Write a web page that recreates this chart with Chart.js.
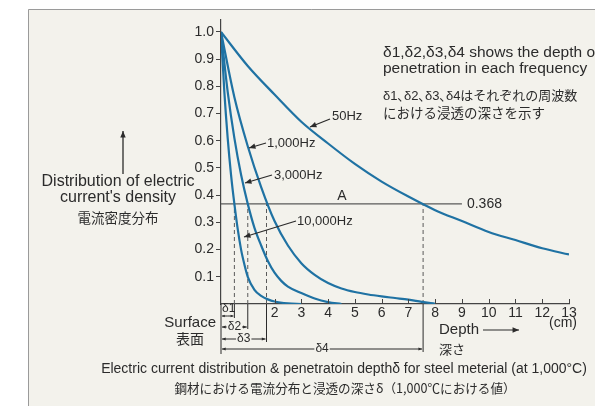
<!DOCTYPE html>
<html>
<head>
<meta charset="utf-8">
<script src="https://cdn.jsdelivr.net/npm/chart.js@4.4.1/dist/chart.umd.min.js"></script>
<style>
  html, body { margin: 0; padding: 0; background: #fff; }
  #wrap { width: 595px; height: 406px; }
</style>
</head>
<body>
<div id="wrap"><canvas id="chart" width="595" height="406"></canvas></div>
<script>
// depth (cm) and relative current density
const depth50Hz = [0, 1, 2, 3, 4, 5, 6, 7, 8, 9, 10, 11, 12, 13];
const density50Hz = [1.0, 0.875, 0.77, 0.67, 0.59, 0.515, 0.45, 0.395, 0.345, 0.305, 0.265, 0.235, 0.205, 0.182];

const depth1000Hz = [0, 0.5, 1, 1.5, 2, 2.5, 3, 3.5, 4, 4.5, 5, 5.5, 6, 6.5, 7, 7.5, 8];
const density1000Hz = [1.0, 0.76, 0.58, 0.43, 0.305, 0.215, 0.15, 0.107, 0.077, 0.057, 0.044, 0.035, 0.028, 0.022, 0.016, 0.008, 0.001];

const depth3000Hz = [0, 0.25, 0.5, 0.75, 1, 1.25, 1.5, 1.75, 2, 2.25, 2.5, 3, 3.5, 4, 4.5];
const density3000Hz = [1.0, 0.78, 0.61, 0.475, 0.368, 0.28, 0.215, 0.158, 0.115, 0.085, 0.064, 0.04, 0.02, 0.007, 0.0];

const depth10000Hz = [0, 0.125, 0.25, 0.375, 0.5, 0.625, 0.75, 0.875, 1, 1.25, 1.5, 1.75, 2, 2.5, 3];
const density10000Hz = [1.0, 0.78, 0.61, 0.475, 0.368, 0.275, 0.2, 0.145, 0.1, 0.052, 0.03, 0.017, 0.009, 0.002, 0.0];

const xTickValues = [0, 1, 2, 3, 4, 5, 6, 7, 8, 9, 10, 11, 12, 13];
const yTickValues = [0.1, 0.2, 0.3, 0.4, 0.5, 0.6, 0.7, 0.8, 0.9, 1.0];

const refLevel = 0.368;
const refLineEnd = 9;
const deltaDepths = [0.5, 1.0, 1.7, 7.55];
const deltaLabels = ['δ1', 'δ2', 'δ3', 'δ4'];

const LATIN = '"Liberation Sans", Arial, sans-serif';
const CJK = '"Noto Sans CJK JP", sans-serif';
const MIXED = '"Liberation Sans", "Noto Sans CJK JP", sans-serif';
const INK = '#2b2b2b';
const CURVE = '#1f72a3';

function points(xs, ys) {
  return xs.map((x, i) => ({ x: x, y: ys[i] }));
}

function curve(label, xs, ys) {
  return {
    label: label,
    data: points(xs, ys),
    borderColor: CURVE,
    borderWidth: 2.2,
    pointRadius: 0,
    cubicInterpolationMode: 'monotone',
    fill: false
  };
}

const datasets = [
  curve('50Hz', depth50Hz, density50Hz),
  curve('1,000Hz', depth1000Hz, density1000Hz),
  curve('3,000Hz', depth3000Hz, density3000Hz),
  curve('10,000Hz', depth10000Hz, density10000Hz),
  {
    label: 'A',
    data: [{ x: 0, y: refLevel }, { x: refLineEnd, y: refLevel }],
    borderColor: '#5a5a5a',
    borderWidth: 1.3,
    pointRadius: 0
  }
];
deltaDepths.forEach((d, i) => {
  datasets.push({
    label: deltaLabels[i],
    data: [{ x: d, y: 0 }, { x: d, y: refLevel }],
    borderColor: '#5a5a5a',
    borderWidth: 1,
    borderDash: [4, 3],
    pointRadius: 0
  });
});

function arrowHead(c, x1, y1, x2, y2, size) {
  const a = Math.atan2(y2 - y1, x2 - x1);
  c.beginPath();
  c.moveTo(x2, y2);
  c.lineTo(x2 - size * Math.cos(a - 0.4), y2 - size * Math.sin(a - 0.4));
  c.lineTo(x2 - size * Math.cos(a + 0.4), y2 - size * Math.sin(a + 0.4));
  c.closePath();
  c.fill();
}

function arrow(c, x1, y1, x2, y2, size) {
  c.beginPath();
  c.moveTo(x1, y1);
  c.lineTo(x2, y2);
  c.stroke();
  arrowHead(c, x1, y1, x2, y2, size);
}

function text(c, str, x, y, font, align) {
  c.font = font;
  c.textAlign = align || 'left';
  c.textBaseline = 'middle';
  c.fillText(str, x, y);
}

const notes = {
  id: 'notes',
  beforeDraw(chart) {
    const c = chart.ctx;
    c.save();
    c.fillStyle = '#f3f2ec';
    c.fillRect(28, 9, 570, 400);
    c.strokeStyle = '#9a9a9a';
    c.lineWidth = 1;
    c.beginPath();
    c.moveTo(28.5, 406);
    c.lineTo(28.5, 9.5);
    c.lineTo(595, 9.5);
    c.stroke();
    c.restore();
  },
  afterDatasetsDraw(chart) {
    const c = chart.ctx;
    const xs = chart.scales.x;
    const ys = chart.scales.y;
    const x0 = xs.getPixelForValue(0);
    const y0 = ys.getPixelForValue(0);
    c.save();
    c.fillStyle = INK;
    c.lineWidth = 1;

    // x tick marks pointing up
    c.strokeStyle = '#444';
    xTickValues.filter(v => v >= 2).forEach(v => {
      const p = Math.round(xs.getPixelForValue(v)) + 0.5;
      c.beginPath();
      c.moveTo(p, y0);
      c.lineTo(p, y0 - 5);
      c.stroke();
    });

    // curve labels
    c.strokeStyle = INK;
    c.lineWidth = 1.3;
    const f13 = '13px ' + LATIN;
    arrow(c, 330, 119, 310, 127, 7);
    text(c, '50Hz', 332, 116, f13);
    arrow(c, 266, 143, 249, 148, 7);
    text(c, '1,000Hz', 267, 143, f13);
    arrow(c, 272, 175, 245, 183, 7);
    text(c, '3,000Hz', 274, 175, f13);
    arrow(c, 296, 221, 244, 237, 7);
    text(c, '10,000Hz', 297, 221, f13);
    text(c, 'A', 342, 196, '14px ' + LATIN, 'center');
    text(c, '0.368', xs.getPixelForValue(refLineEnd) + 5, ys.getPixelForValue(refLevel), '14px ' + LATIN);

    // penetration depth markers under the axis
    c.lineWidth = 1;
    const lineEnds = [318, 329, 342, 352];
    const arrowRows = [316, 327, 339, 349];
    c.beginPath();
    c.moveTo(x0, y0);
    c.lineTo(x0, 354);
    c.stroke();
    deltaDepths.forEach((d, i) => {
      const xp = xs.getPixelForValue(d);
      c.beginPath();
      c.moveTo(xp, y0);
      c.lineTo(xp, lineEnds[i]);
      c.stroke();
      const row = arrowRows[i];
      if (i === 0) {
        text(c, deltaLabels[i], x0 + 1, 309, '12px ' + LATIN);
        arrow(c, (x0 + xp) / 2, row, x0 + 1, row, 3);
        arrow(c, (x0 + xp) / 2, row, xp - 1, row, 3);
      } else {
        const mid = (x0 + xp) / 2;
        c.font = '12px ' + LATIN;
        const w = c.measureText(deltaLabels[i]).width;
        text(c, deltaLabels[i], mid, row, '12px ' + LATIN, 'center');
        arrow(c, mid - w / 2 - 1, row, x0 + 1, row, 4);
        arrow(c, mid + w / 2 + 1, row, xp - 1, row, 4);
      }
    });

    text(c, 'Surface', 216, 323, '15px ' + LATIN, 'right');
    text(c, '表面', 190, 339, '14px ' + CJK, 'center');

    text(c, 'Depth', 439, 330, '15px ' + LATIN);
    c.lineWidth = 1.2;
    arrow(c, 483, 330, 519, 330, 7);
    text(c, '(cm)', 549, 323, '14px ' + LATIN);
    text(c, '深さ', 439, 349, '13px ' + CJK);

    // notes top right
    text(c, 'δ1,δ2,δ3,δ4 shows the depth of', 383, 53, '15.5px ' + LATIN);
    text(c, 'penetration in each frequency', 383, 69, '15.5px ' + LATIN);
    text(c, 'δ1､δ2､δ3､δ4はそれぞれの周波数', 383, 96, '13px ' + MIXED);
    text(c, 'における浸透の深さを示す', 383, 113, '13.5px ' + CJK);

    // y title
    c.lineWidth = 1.3;
    arrow(c, 123, 174, 123, 131, 7);
    text(c, 'Distribution of electric', 118, 182, '16px ' + LATIN, 'center');
    text(c, "current's density", 118, 198, '16px ' + LATIN, 'center');
    text(c, '電流密度分布', 118, 218, '13.5px ' + CJK, 'center');

    // caption
    text(c, 'Electric current distribution & penetratoin depthδ for steel meterial (at 1,000°C)', 344, 369, '14px ' + LATIN, 'center');
    text(c, '鋼材における電流分布と浸透の深さδ（1,000℃における値）', 345, 388, '12.6px ' + CJK, 'center');
    c.restore();
  }
};

new Chart(document.getElementById('chart'), {
  type: 'line',
  data: { datasets: datasets },
  options: {
    responsive: false,
    animation: false,
    devicePixelRatio: 1,
    layout: { padding: { left: 0, top: 20, right: 26, bottom: 0 } },
    plugins: { legend: { display: false }, tooltip: { enabled: false } },
    scales: {
      x: {
        type: 'linear',
        min: 0,
        max: 13,
        afterBuildTicks: s => { s.ticks = xTickValues.map(v => ({ value: v })); },
        afterFit: s => { s.height = 102; },
        grid: { display: false, drawTicks: false },
        border: { display: true, color: '#444', width: 1.2 },
        ticks: {
          autoSkip: false,
          maxRotation: 0,
          padding: 1,
          color: INK,
          font: { family: LATIN, size: 14 },
          callback: v => (v >= 2 ? String(v) : '')
        }
      },
      y: {
        min: 0,
        max: 1.044,
        afterBuildTicks: s => { s.ticks = yTickValues.map(v => ({ value: v })); },
        afterFit: s => { s.width = 221; },
        grid: { drawOnChartArea: false, drawTicks: true, tickLength: 5, color: '#444' },
        border: { display: true, color: '#444', width: 1.2 },
        ticks: {
          padding: 2,
          color: INK,
          font: { family: LATIN, size: 14 },
          callback: v => Number(v).toFixed(1)
        }
      }
    }
  },
  plugins: [notes]
});
</script>
</body>
</html>
